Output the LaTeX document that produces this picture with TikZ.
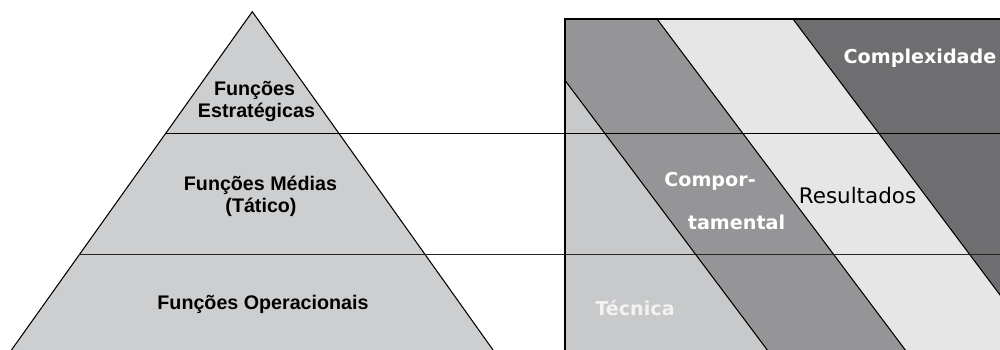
\documentclass[tikz,border=0pt]{standalone}
\usepackage{fontspec}
\setmainfont{Liberation Sans}
\newfontfamily\panelfont{DejaVu Sans}
\definecolor{pyrgray}{HTML}{CDCED0}
\definecolor{bandA}{HTML}{C8C9CB}
\definecolor{bandB}{HTML}{959597}
\definecolor{bandC}{HTML}{E6E6E6}
\definecolor{bandD}{HTML}{6E6E70}
\definecolor{softwhite}{HTML}{F2F2F2}
\begin{document}
\begin{tikzpicture}[x=0.02cm,y=-0.02cm,
  edge/.style={black,line width=0.6pt},
  level/.style={black,line width=0.75pt},
  stripe/.style={black,line width=0.6pt},
  frame/.style={black,line width=1.2pt},
  pyrtext/.style={anchor=base,inner sep=0pt,font=\bfseries\fontsize{11.2}{13.4}\selectfont},
  paneltext/.style={anchor=base,inner sep=0pt,text=white,font=\panelfont\bfseries\fontsize{10.9}{13}\selectfont},
  plaintext/.style={anchor=base,inner sep=0pt,text=black,font=\panelfont\fontsize{12.2}{14}\selectfont}]
\useasboundingbox (0,0) rectangle (1000,350);
\clip (0,0) rectangle (1000,350);

% pyramid
\coordinate (apex) at (252.3,11.7);
\coordinate (bl) at (7.2,356);
\coordinate (br) at (497.3,356);
\fill[pyrgray] (apex) -- (br) -- (bl) -- cycle;
\draw[edge] (bl) -- (apex) -- (br);

% competence bands
\coordinate (pTL) at (565,19);
\coordinate (pBR) at (1010,360);
\coordinate (b1t) at (519,19);  \coordinate (b1b) at (774.8,360);
\coordinate (b2t) at (657,19);  \coordinate (b2b) at (912.8,360);
\coordinate (b3t) at (793,19);  \coordinate (b3b) at (1048.8,360);
\begin{scope}
  \clip (pTL) rectangle (pBR);
  \fill[bandA] (pTL) rectangle (pBR);
  \fill[bandB] (b1t) -- (b2t) -- (b2b) -- (b1b) -- cycle;
  \fill[bandC] (b2t) -- (b3t) -- (b3b) -- (b2b) -- cycle;
  \fill[bandD] (b3t) -- (1010,19) -- (pBR) -- (b3b) -- cycle;
  \draw[stripe] (b1t) -- (b1b);
  \draw[stripe] (b2t) -- (b2b);
  \draw[stripe] (b3t) -- (b3b);
\end{scope}
\draw[frame] (565,360) -- (pTL) -- (1010,19);

% level lines
\coordinate (l1a) at (165.7,133.3);
\coordinate (l1b) at (1000,133.3);
\coordinate (l2a) at (79.4,254.5);
\coordinate (l2b) at (1000,254.5);
\draw[level] (l1a) -- (l1b);
\draw[level,line width=1pt,black!85] (l2a) -- (l2b);

% pyramid labels
\node[pyrtext] (est1) at (254.5,96) {Funções};
\node[pyrtext] (est2) at (256.5,118) {Estratégicas};
\node[pyrtext] (tat1) at (260.5,191) {Funções Médias};
\node[pyrtext] (tat2) at (261,213) {(Tático)};
\node[pyrtext] (ope) at (263,310) {Funções Operacionais};

% band labels
\node[paneltext] (cpx) at (920,64) {Complexidade};
\node[paneltext] (cmp1) at (710,187) {Compor-};
\node[paneltext] (cmp2) at (736.5,230) {tamental};
\node[plaintext] (res) at (857.5,204) {Resultados};
\node[paneltext,text=softwhite] (tec) at (635,316) {Técnica};
\end{tikzpicture}
\end{document}
